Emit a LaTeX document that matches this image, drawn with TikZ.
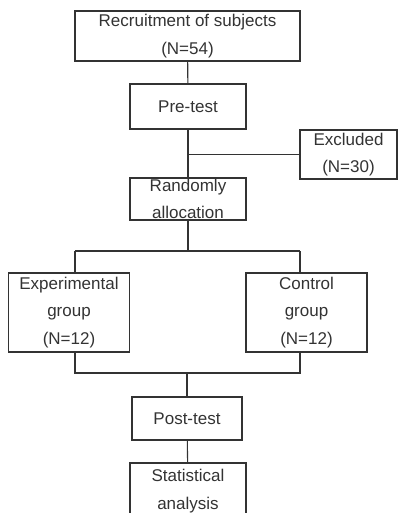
\documentclass[tikz,border=0pt]{standalone}
\usepackage{fontspec}
\setmainfont{Liberation Sans}
\usepackage{tikz}
\usetikzlibrary{positioning}

\begin{document}
\begin{tikzpicture}[x=1pt, y=-1pt,
    box/.style={draw=black!80, line width=1.1pt, rectangle, align=center, inner sep=0pt,
                text=black!80, font=\fontsize{17}{27.5}\selectfont},
    link/.style={draw=black!80, line width=1.1pt}]
    \useasboundingbox (0,0) rectangle (398,513);

    % Boxes
    \node[box, minimum width=225pt, minimum height=50pt] (recruit) at (187.5,36) {Recruitment of subjects\\(N=54)};
    \node[box, minimum width=116pt, minimum height=45pt] (pretest) at (188,106.5) {Pre-test};
    \node[box, minimum width=97pt, minimum height=49pt] (excluded) at (348.5,154.5) {Excluded\\(N=30)};
    \node[box, minimum width=116pt, minimum height=42pt] (random) at (188,199) {Randomly\\allocation};
    \node[box, minimum width=121pt, minimum height=79pt] (exper) at (69,312.5) {Experimental\\group\\(N=12)};
    \node[box, minimum width=121pt, minimum height=79pt] (control) at (306.5,312.5) {Control\\group\\(N=12)};
    \node[box, minimum width=110pt, minimum height=43pt] (posttest) at (187,418.5) {Post-test};
    \node[box, minimum width=116pt, minimum height=56pt] (stats) at (188,491) {Statistical\\analysis};

    % Junctions
    \coordinate (exjoin) at (pretest.south |- excluded.west);
    \coordinate (split) at (random.south |- 0,251);
    \coordinate (splitL) at (75,251);
    \coordinate (splitR) at (300,251);
    \coordinate (merge) at (posttest.north |- 0,373);
    \coordinate (mergeL) at (75,373);
    \coordinate (mergeR) at (300,373);

    % Connectors
    \draw[link] (recruit) -- (pretest);
    \draw[link] (pretest) -- (random);
    \draw[link] (exjoin) -- (excluded);
    \draw[link] (random) -- (split);
    \draw[link] (splitL) -- (splitR);
    \draw[link] (splitL) -- (splitL |- exper.north);
    \draw[link] (splitR) -- (splitR |- control.north);
    \draw[link] (mergeL |- exper.south) -- (mergeL) -- (mergeR) -- (mergeR |- control.south);
    \draw[link] (merge) -- (posttest);
    \draw[link] (posttest) -- (stats);
\end{tikzpicture}
\end{document}
